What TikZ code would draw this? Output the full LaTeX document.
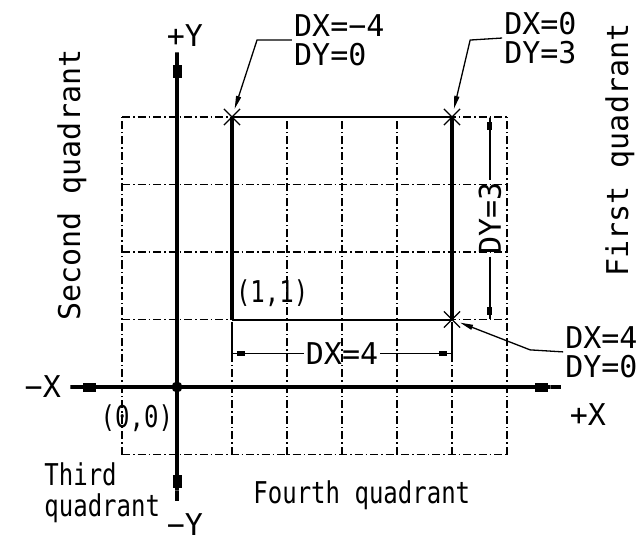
\documentclass[tikz,border=0pt]{standalone}
\usepackage{fontspec}
\newfontfamily\cadfont{DejaVu Sans Mono}
\newfontfamily\cadnarrow[FakeStretch=0.8]{DejaVu Sans Mono}
\usetikzlibrary{positioning, arrows.meta, shapes.misc}

\tikzset{
    lbl/.style={font=\cadfont\fontsize{30}{29}\selectfont, inner sep=2pt},
    lbln/.style={font=\cadnarrow\fontsize{30}{31}\selectfont, inner sep=2pt},
    gridline/.style={line width=1.3pt, dash pattern=on 8pt off 3pt on 1.5pt off 3pt},
    axis/.style={line width=4.5pt,
        {Rectangle[length=15pt,width=4.5pt] Rectangle[length=13pt,width=9pt]}-{Rectangle[length=13pt,width=9pt] Rectangle[length=15pt,width=4.5pt]}},
    thinedge/.style={line width=2pt},
    thickedge/.style={line width=4pt},
    dimline/.style={line width=1.3pt,
        -{Rectangle[length=8pt,width=5pt] Rectangle[length=5pt,width=1.3pt]}},
    leader/.style={line width=1.3pt, -{Triangle[length=13pt,width=5pt]}},
    crossmark/.style={cross out, draw, line width=1.2pt, minimum size=15pt, inner sep=0pt},
    dot/.style={circle, fill, inner sep=0pt, minimum size=11pt}
}

\begin{document}
\begin{tikzpicture}[x=55pt, y=67.5pt]
    \useasboundingbox (-177pt,-159pt) rectangle (467pt,387pt);

    % Grid
    \foreach \i in {-1,...,6}
        \draw[gridline] (\i,-1) -- (\i,4);
    \foreach \j in {-1,...,4}
        \draw[gridline] (-1,\j) -- (6,\j);

    % Axes
    \coordinate (xl) at (-1.98,0);
    \coordinate (xr) at (7.02,0);
    \coordinate (yt) at (0,4.99);
    \coordinate (yb) at (0,-1.72);
    \draw[axis] (xl) -- (xr);
    \draw[axis] (yb) -- (yt);
    \node[dot] (o) at (0,0) {};

    % Rectangle
    \coordinate (ll) at (1,1);
    \coordinate (ul) at (1,4);
    \coordinate (ur) at (5,4);
    \coordinate (lr) at (5,1);
    \draw[thinedge] (ul) -- (ur);
    \draw[thinedge] (ll) -- (lr);
    \draw[thickedge] (ll) -- (ul);
    \draw[thickedge] (lr) -- (ur);
    \node[crossmark] (cul) at (ul) {};
    \node[crossmark] (cur) at (ur) {};
    \node[crossmark] (clr) at (lr) {};

    % Axis labels
    \node[lbl] (py) at (0.145,5.2) {+Y};
    \node[lbl, anchor=base] (ny) at (0.145,-2.2) {−Y};
    \node[lbl] (nx) at (-2.44,0) {−X};
    \node[lbl] (px) at (7.47,-0.41) {+X};
    \node[lbln] (orig) at (-0.73,-0.46) {(0,0)};
    \node[lbln] (start) at (1.73,1.39) {(1,1)};

    % Quadrants
    \node[lbl, rotate=90] (q2) at (-1.91,2.99) {Second quadrant};
    \node[lbl, rotate=90] (q1) at (8.05,3.51) {First quadrant};
    \node[lbln, align=left, anchor=west] (q3) at (-2.45,-1.56) {Third\\quadrant};
    \node[lbln] (q4) at (3.36,-1.6) {Fourth quadrant};

    % Leaders
    \node[lbl, align=left, anchor=west] (d1) at (2.09,5.14) {DX=−4\\DY=0};
    \node[lbl, align=left, anchor=west] (d2) at (5.91,5.17) {DX=0\\DY=3};
    \node[lbl, align=left, anchor=west] (d3) at (7.02,0.52) {DX=4\\DY=0};
    \coordinate (k1) at (1.455,5.14);
    \coordinate (k2) at (5.33,5.14);
    \coordinate (k3) at (6.42,0.55);
    \draw[leader] (d1.west) -- (k1) -- (cul);
    \draw[leader] (d2.west) -- (k2) -- (cur);
    \draw[leader] (d3.west) -- (k3) -- (clr);

    % Dimensions
    \node[lbl] (dx) at (3,0.5) {DX=4};
    \node[lbl, rotate=90] (dy) at (5.69,2.5) {DY=3};
    \draw[thinedge, line width=1.3pt] (1,0.97) -- (1,0.42);
    \draw[thinedge, line width=1.3pt] (5,0.97) -- (5,0.42);
    \draw[dimline] (dx) -- (1,0.5);
    \draw[dimline] (dx) -- (5,0.5);
    \draw[dimline] (dy) -- (5.69,4);
    \draw[dimline] (dy) -- (5.69,1);
\end{tikzpicture}
\end{document}
